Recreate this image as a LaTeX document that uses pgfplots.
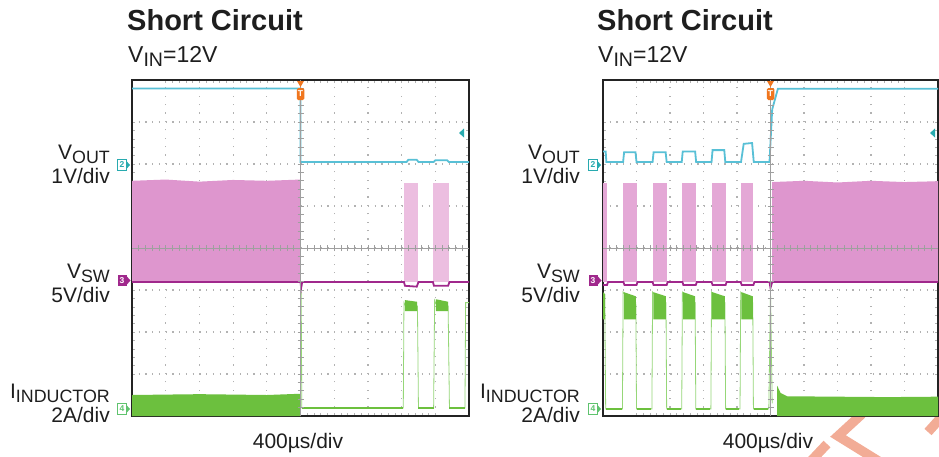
\documentclass[border=0pt]{standalone}
\usepackage{pgfplots}
\pgfplotsset{compat=1.18}
\usepackage{graphicx}
\usepackage{fontspec}
\setmainfont{Liberation Sans}

\definecolor{scopecyan}{RGB}{88,192,214}
\definecolor{scopemag}{RGB}{160,40,140}
\definecolor{scopepink}{RGB}{222,150,206}
\definecolor{burstpink}{RGB}{236,190,224}
\definecolor{burstpinkb}{RGB}{228,168,214}
\definecolor{scopegreen}{RGB}{108,192,62}
\definecolor{edgegreen}{RGB}{150,215,120}
\definecolor{trigorange}{RGB}{240,118,30}
\definecolor{framegray}{RGB}{35,35,35}
\definecolor{tealmark}{RGB}{40,170,175}
\definecolor{ch4green}{RGB}{95,195,110}
\definecolor{watermark}{RGB}{242,172,150}
\definecolor{labeltext}{RGB}{30,30,30}

% subscripts as on the scope plots: nearly full size, slightly lowered
\newcommand{\sub}[1]{\raisebox{-0.2em}{\scalebox{0.85}{#1}}}

\pgfplotsset{
  scopescreen/.style={
    scale only axis, height=336pt, anchor=south west,
    xmin=0, xmax=10, ymin=0, ymax=8,
    xtick={1,...,9}, ytick={1,...,7},
    xticklabels={}, yticklabels={},
    minor x tick num=4, minor y tick num=4,
    major tick length=3pt, minor tick length=3pt,
    tick style={gray!60, line width=0.6pt},
    xmajorgrids, ymajorgrids,
    every axis x grid/.append style={gray!60, line width=1.2pt, dash pattern=on 1.2pt off 7.2pt},
    every axis y grid/.append style={gray!60, line width=1.2pt, dash pattern=on 1.2pt off 5.54pt},
    axis line style={framegray, line width=2.6pt},
    axis background/.style={fill=white},
  },
  trace/.style={line width=1.8pt},
}

\begin{document}
\begin{tikzpicture}
\path[use as bounding box] (0pt,0pt) rectangle (939pt,-456pt);

% watermark strokes at the bottom right (behind the screens)
\begin{scope}[x=1pt, y=1pt]
\draw[watermark, line width=9.5pt] (862,-414) -- (838,-436) -- (880,-462);
\draw[watermark, line width=9.5pt] (810,-462) -- (827,-444);
\draw[watermark, line width=9.5pt] (928,-432) -- (946,-412);
\end{scope}

% ---------- left screen: short applied ----------
\begin{axis}[scopescreen, at={(132pt,-416pt)}, width=337pt]
% V_SW switching envelope
\addplot[fill=scopepink, draw=none] coordinates {(0,3.19) (0,5.6) (1,5.63) (2,5.58) (3,5.62) (4,5.6) (5,5.63) (5,3.19)};
\addplot[fill=burstpink, draw=none] coordinates {(8.07,3.2) (8.07,5.55) (8.5,5.55) (8.5,3.2)};
\addplot[fill=burstpink, draw=none] coordinates {(8.93,3.2) (8.93,5.55) (9.4,5.55) (9.4,3.2)};
% inductor current
\addplot[fill=scopegreen, draw=none] coordinates {(0,0) (0,0.5) (2,0.52) (4,0.5) (5,0.53) (5,0)};
\addplot[edgegreen, line width=0.8pt] coordinates {(5,0.5) (5.02,2.95) (5.04,0.19) (8.05,0.19) (8.07,2.7) (8.12,2.62) (8.47,2.62) (8.5,0.19) (8.95,0.19) (8.98,2.75) (9.05,2.62) (9.38,2.62) (9.42,0.19) (9.88,0.19) (9.9,2.7) (10,2.7)};
\addplot[scopegreen, trace] coordinates {(5.04,0.19) (8.05,0.19)};
\addplot[scopegreen, trace] coordinates {(8.5,0.19) (8.95,0.19)};
\addplot[scopegreen, trace] coordinates {(9.42,0.19) (9.88,0.19)};
\addplot[fill=scopegreen, draw=none] coordinates {(8.1,2.5) (8.1,2.76) (8.46,2.72) (8.46,2.5)};
\addplot[fill=scopegreen, draw=none] coordinates {(9.02,2.5) (9.02,2.78) (9.38,2.72) (9.38,2.5)};
% V_SW baseline
\addplot[scopemag, trace] coordinates {(0,3.19) (5,3.19) (5.02,3.05) (5.05,3.19) (8.07,3.19) (8.1,3.1) (8.45,3.08) (8.5,3.19) (8.93,3.19) (8.96,3.1) (9.38,3.1) (9.42,3.19) (10,3.19)};
% V_OUT
\addplot[scopecyan, trace] coordinates {(0,7.8) (5,7.8) (5,6.05) (8.15,6.05) (8.2,6.1) (8.45,6.1) (8.5,6.05) (8.95,6.05) (9.0,6.09) (9.35,6.09) (9.4,6.05) (10,6.05)};
\end{axis}

% ---------- right screen: short removed ----------
\begin{axis}[scopescreen, at={(603pt,-416pt)}, width=335pt]
% V_SW hiccup bursts and recovery
\addplot[fill=burstpinkb, draw=none] coordinates {(0,3.2) (0,5.55) (0.12,5.55) (0.12,3.2)};
\addplot[fill=burstpinkb, draw=none] coordinates {(0.61,3.2) (0.61,5.55) (1.0,5.55) (1.0,3.2)};
\addplot[fill=burstpinkb, draw=none] coordinates {(1.48,3.2) (1.48,5.55) (1.9,5.55) (1.9,3.2)};
\addplot[fill=burstpinkb, draw=none] coordinates {(2.37,3.2) (2.37,5.55) (2.77,5.55) (2.77,3.2)};
\addplot[fill=burstpinkb, draw=none] coordinates {(3.24,3.2) (3.24,5.55) (3.66,5.55) (3.66,3.2)};
\addplot[fill=burstpinkb, draw=none] coordinates {(4.11,3.2) (4.11,5.55) (4.49,5.55) (4.49,3.2)};
\addplot[fill=scopepink, draw=none] coordinates {(5.05,3.19) (5.05,5.57) (6,5.6) (7,5.56) (8,5.6) (9,5.57) (10,5.59) (10,3.19)};
% inductor current
\addplot[edgegreen, line width=0.8pt] coordinates {(0,2.9) (0.05,2.9) (0.08,0.17) (0.58,0.17) (0.6,2.95) (0.65,2.9) (0.98,2.7) (1.0,0.17) (1.46,0.17) (1.48,2.95) (1.53,2.9) (1.88,2.7) (1.9,0.17) (2.35,0.17) (2.37,2.95) (2.42,2.9) (2.75,2.7) (2.77,0.17) (3.22,0.17) (3.24,2.95) (3.29,2.9) (3.64,2.7) (3.66,0.17) (4.09,0.17) (4.11,2.95) (4.16,2.9) (4.47,2.7) (4.49,0.17) (4.95,0.17) (5.0,3.0) (5.05,0.3)};
\addplot[fill=scopegreen, draw=none] coordinates {(0,2.3) (0,2.95) (0.06,2.9) (0.06,2.3)};
\addplot[fill=scopegreen, draw=none] coordinates {(0.62,2.3) (0.62,2.95) (0.98,2.85) (0.98,2.3)};
\addplot[fill=scopegreen, draw=none] coordinates {(1.5,2.3) (1.5,2.95) (1.88,2.85) (1.88,2.3)};
\addplot[fill=scopegreen, draw=none] coordinates {(2.39,2.3) (2.39,2.95) (2.75,2.85) (2.75,2.3)};
\addplot[fill=scopegreen, draw=none] coordinates {(3.26,2.3) (3.26,2.95) (3.64,2.85) (3.64,2.3)};
\addplot[fill=scopegreen, draw=none] coordinates {(4.13,2.3) (4.13,2.95) (4.47,2.85) (4.47,2.3)};
\addplot[scopegreen, trace] coordinates {(0.1,0.17) (0.56,0.17)};
\addplot[scopegreen, trace] coordinates {(1.02,0.17) (1.44,0.17)};
\addplot[scopegreen, trace] coordinates {(1.92,0.17) (2.33,0.17)};
\addplot[scopegreen, trace] coordinates {(2.79,0.17) (3.2,0.17)};
\addplot[scopegreen, trace] coordinates {(3.68,0.17) (4.07,0.17)};
\addplot[scopegreen, trace] coordinates {(4.51,0.17) (4.93,0.17)};
\addplot[fill=scopegreen, draw=none] coordinates {(5.2,0) (5.2,0.72) (5.3,0.55) (5.5,0.47) (7,0.46) (8.5,0.45) (10,0.46) (10,0)};
% V_SW baseline
\addplot[scopemag, trace] coordinates {(0,3.12) (0.12,3.12) (0.15,3.19) (0.61,3.19) (0.64,3.12) (1.0,3.12) (1.03,3.19) (1.48,3.19) (1.51,3.12) (1.9,3.12) (1.93,3.19) (2.37,3.19) (2.4,3.12) (2.77,3.12) (2.8,3.19) (3.24,3.19) (3.27,3.12) (3.66,3.12) (3.69,3.19) (4.11,3.19) (4.14,3.12) (4.49,3.12) (4.52,3.19) (4.97,3.19) (5.0,3.05) (5.05,3.19) (10,3.19)};
% V_OUT
\addplot[scopecyan, trace] coordinates {(0,6.3) (0.08,6.3) (0.1,6.05) (0.6,6.05) (0.63,6.28) (0.97,6.28) (1.0,6.05) (1.48,6.05) (1.51,6.28) (1.87,6.28) (1.9,6.05) (2.35,6.05) (2.38,6.3) (2.75,6.3) (2.78,6.05) (3.24,6.05) (3.27,6.33) (3.62,6.33) (3.65,6.05) (4.12,6.05) (4.2,6.48) (4.45,6.5) (4.5,6.05) (4.97,6.05) (5.05,7.3) (5.22,7.79) (10,7.79)};
\end{axis}

\begin{scope}[x=1pt, y=1pt]
% centre graticule lines with their small ticks
\foreach \ox/\wd in {132/337,603/335} {
  \draw[gray!75, line width=0.8pt] (\ox+\wd/2,-80) -- (\ox+\wd/2,-416);
  \draw[gray!75, line width=0.8pt] (\ox,-248) -- (\ox+\wd,-248);
  \foreach \i in {1,...,49}
    \draw[gray!75, line width=0.7pt] (\ox+\wd/50*\i,-251) -- ++(0,6);
  \foreach \j in {1,...,39}
    \draw[gray!75, line width=0.7pt] (\ox+\wd/2-3,-416+8.4*\j) -- ++(6,0);
}

% channel, trigger and level markers
\foreach \ox/\cx in {0/300.5,471/770.5} {
  \fill[tealmark] (126+\ox,-160.5) -- (130+\ox,-165) -- (126+\ox,-169.5) -- cycle;
  \node[draw=tealmark, line width=0.8pt, fill=white, text=tealmark, font=\fontsize{8.5}{8.5}\bfseries\selectfont, inner sep=0pt, minimum width=8.5pt, minimum height=11pt] at (122+\ox,-165) {2};
  \fill[scopemag] (126+\ox,-275.5) -- (130.5+\ox,-280.5) -- (126+\ox,-285.5) -- cycle;
  \node[fill=scopemag, text=white, font=\fontsize{8.5}{8.5}\bfseries\selectfont, inner sep=0pt, minimum width=9pt, minimum height=11.5pt] at (122+\ox,-280.5) {3};
  \fill[ch4green] (126+\ox,-404.5) -- (130+\ox,-409) -- (126+\ox,-413.5) -- cycle;
  \node[draw=ch4green, line width=0.8pt, fill=white, text=ch4green, font=\fontsize{8.5}{8.5}\bfseries\selectfont, inner sep=0pt, minimum width=8.5pt, minimum height=11pt] at (122+\ox,-409) {4};
  \fill[trigorange] (\cx-3.5,-81) -- (\cx+3.5,-81) -- (\cx,-87) -- cycle;
  \node[fill=trigorange, text=white, rounded corners=1.5pt, font=\fontsize{8.5}{8.5}\bfseries\selectfont, inner sep=0pt, minimum width=7.5pt, minimum height=12pt] at (\cx,-94) {T};
  \fill[tealmark] (459+\ox,-133) -- (464+\ox,-128.5) -- (464+\ox,-137.5) -- cycle;
}

% titles and channel labels
\foreach \ox in {0,470} {
  \node[anchor=base west, inner sep=0pt, text=labeltext, font=\fontsize{29}{30}\bfseries\selectfont] at (127+\ox,-30) {Short Circuit};
  \node[anchor=base west, inner sep=0pt, text=labeltext, font=\fontsize{23}{25}\selectfont] at (128+\ox,-62) {V\sub{IN}=12V};
  \node[anchor=base east, inner sep=0pt, text=labeltext, font=\fontsize{21}{23}\selectfont] at (110+\ox,-159) {V\sub{OUT}};
  \node[anchor=base east, inner sep=0pt, text=labeltext, font=\fontsize{21}{23}\selectfont] at (110+\ox,-183) {1V/div};
  \node[anchor=base east, inner sep=0pt, text=labeltext, font=\fontsize{21}{23}\selectfont] at (110+\ox,-278) {V\sub{SW}};
  \node[anchor=base east, inner sep=0pt, text=labeltext, font=\fontsize{21}{23}\selectfont] at (110+\ox,-302) {5V/div};
  \node[anchor=base east, inner sep=0pt, text=labeltext, font=\fontsize{21}{23}\selectfont] at (110+\ox,-398) {I\sub{INDUCTOR}};
  \node[anchor=base east, inner sep=0pt, text=labeltext, font=\fontsize{21}{23}\selectfont] at (110+\ox,-422) {2A/div};
  \node[anchor=base, inner sep=0pt, text=labeltext, font=\fontsize{21}{23}\selectfont] at (298+\ox,-448) {400µs/div};
}
\end{scope}
\end{tikzpicture}
\end{document}
